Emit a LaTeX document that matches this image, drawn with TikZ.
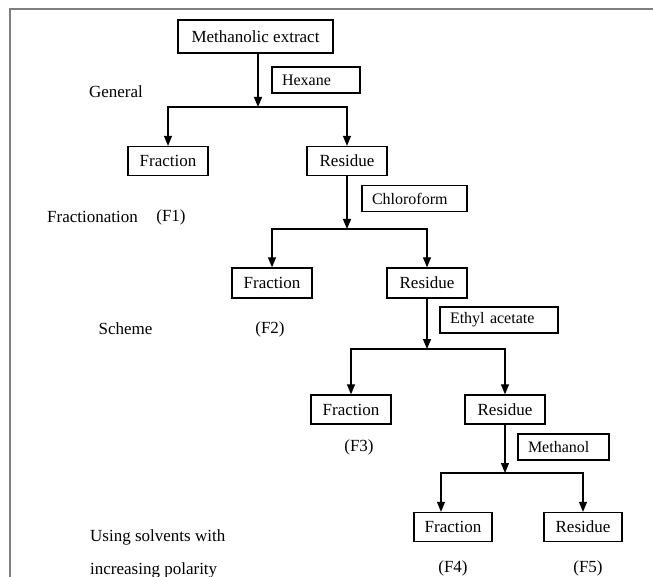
\documentclass[tikz,border=0pt]{standalone}
\usepackage{fontspec}
\setmainfont{Liberation Serif}
\usetikzlibrary{arrows.meta}

\begin{document}
\begin{tikzpicture}[x=1pt,y=-1pt,
    box/.style={draw,line width=1.3pt,minimum width=80pt,minimum height=29pt,inner sep=0pt,font=\fontsize{17}{20}\selectfont},
    solvent/.style={draw,line width=1.1pt,minimum height=26pt,inner xsep=10pt,inner ysep=0pt,align=left,font=\fontsize{16}{19}\selectfont},
    lbl/.style={inner sep=0pt,font=\fontsize{17}{20}\selectfont},
    arr/.style={line width=1.2pt,-{Triangle[length=10pt,width=8pt]}}]
    \useasboundingbox (0,0) rectangle (653,577);
    % frame
    \draw[gray,line width=1.5pt] (10,577) -- (10,9) -- (653,9);
    % boxes
    \node[box,minimum width=155pt,minimum height=33pt] (extract) at (255.5,36.5) {Methanolic extract};
    \node[box] (f1) at (168,161) {Fraction};
    \node[box] (r1) at (347,161) {Residue};
    \node[box,minimum height=30pt] (f2) at (272,283) {Fraction};
    \node[box,minimum height=30pt] (r2) at (427,283) {Residue};
    \node[box] (f3) at (351,409.5) {Fraction};
    \node[box] (r3) at (505,409.5) {Residue};
    \node[box,minimum width=78pt] (f4) at (453,527) {Fraction};
    \node[box,minimum width=78pt] (r4) at (583,527) {Residue};
    % solvents
    \node[solvent,text width=68pt] (hexane) at (316,80) {Hexane};
    \node[solvent,text width=85pt] (chloro) at (414.5,198.5) {Chloroform};
    \node[solvent,text width=98pt] (ethyl) at (499,320) {Ethyl acetate};
    \node[solvent,text width=71pt] (methanol) at (563.5,447) {Methanol};
    % side labels
    \node[lbl] (general) at (116,92) {General};
    \node[lbl,anchor=west] (fractionation) at (47,217) {Fractionation};
    \node[lbl] (scheme) at (125.5,329) {Scheme};
    \node[lbl,anchor=west] (using) at (90,537) {Using solvents with};
    \node[lbl,anchor=west] (polarity) at (90,570) {increasing polarity};
    \node[lbl] (F1) at (171,217) {(F1)};
    \node[lbl] (F2) at (270,329) {(F2)};
    \node[lbl] (F3) at (359,447) {(F3)};
    \node[lbl] (F4) at (453,568) {(F4)};
    \node[lbl] (F5) at (588,568) {(F5)};
    % junctions
    \coordinate (j1) at (258,107);
    \coordinate (j2) at (347,229);
    \coordinate (j3) at (427,349);
    \coordinate (j4) at (505,473);
    % connectors
    \draw[arr] (extract.south -| j1) -- (j1);
    \draw[arr] (j1) -| (f1.north);
    \draw[arr] (j1) -| (r1.north);
    \draw[arr] (r1.south) -- (j2);
    \draw[arr] (j2) -| (f2.north);
    \draw[arr] (j2) -| (r2.north);
    \draw[arr] (r2.south) -- (j3);
    \draw[arr] (j3) -| (f3.north);
    \draw[arr] (j3) -| (r3.north);
    \draw[arr] (r3.south) -- (j4);
    \draw[arr] (j4) -| ([xshift=-12pt]f4.north);
    \draw[arr] (j4) -| (r4.north);
\end{tikzpicture}
\end{document}
